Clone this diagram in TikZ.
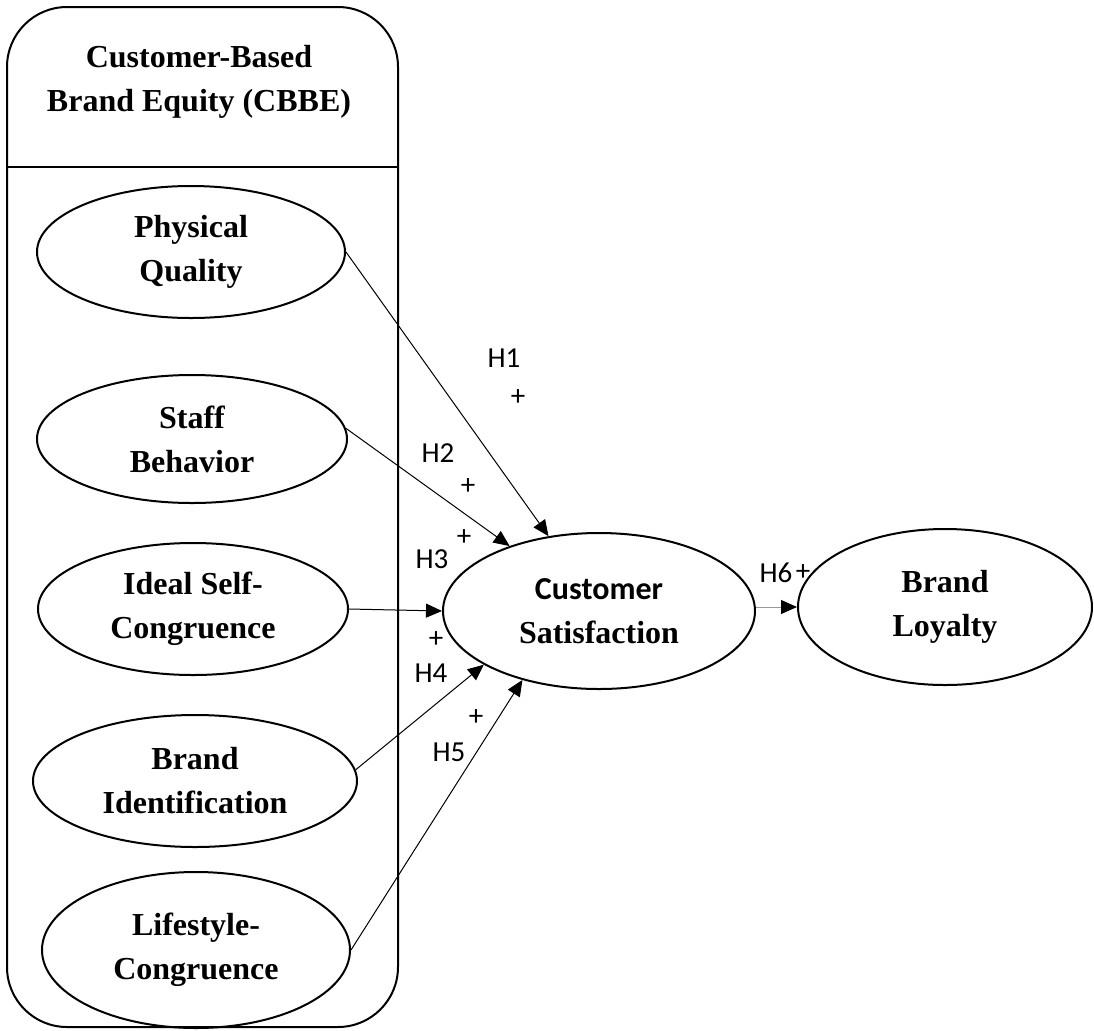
\documentclass[tikz,border=0pt]{standalone}
\usepackage{fontspec}
\setmainfont{Liberation Serif}
\newfontfamily\calibri{Carlito}
\usetikzlibrary{shapes.geometric,arrows.meta}

\begin{document}
\begin{tikzpicture}[x=0.5pt, y=-0.5pt,
  construct/.style = {shape=ellipse, draw, line width=1pt, inner sep=0pt, align=center,
    font=\fontsize{16}{22}\selectfont\bfseries},
  hyp/.style = {font=\calibri\fontsize{14.5}{16}\selectfont, inner sep=0pt},
  path/.style = {line width=0.5pt, -{Triangle[length=8pt,width=7pt,color=black]}}]
  \useasboundingbox (0,0) rectangle (1094,1030);
  % CBBE frame
  \draw[line width=1pt, rounded corners=30pt] (7,7) rectangle (398,1027);
  \draw[line width=1pt] (7,167) -- (398,167);
  \node[align=center, font=\fontsize{16}{22}\selectfont\bfseries] (cbbe) at (199,82)
    {Customer-Based\\Brand Equity (CBBE)};
  % constructs
  \node[construct, minimum width=154pt, minimum height=66pt] (pq) at (191,252) {Physical\\Quality};
  \node[construct, minimum width=155pt, minimum height=64pt] (sb) at (192,439) {Staff\\Behavior};
  \node[construct, minimum width=155pt, minimum height=66pt] (isc) at (193,609) {Ideal Self-\\Congruence};
  \node[construct, minimum width=162pt, minimum height=66pt] (bi) at (195,781) {Brand\\Identification};
  \node[construct, minimum width=154pt, minimum height=78pt] (lc) at (196,950) {Lifestyle-\\Congruence};
  \node[construct, minimum width=156pt, minimum height=78pt] (cs) at (599,611)
    {{\calibri Customer}\\Satisfaction};
  \node[construct, minimum width=147pt, minimum height=78pt] (bl) at (945,607) {Brand\\Loyalty};
  % paths
  \draw[path] (pq.east) -- (cs.124);
  \draw[path] (sb.4) -- (cs.144);
  \draw[path] (isc.east) -- (cs.west);
  \draw[path] (bi.4) -- (cs.205);
  \draw[path] (lc.east) -- (cs.222);
  \draw[path, draw=gray!80] (cs.east |- bl.west) -- (bl.west);
  % hypotheses
  \node[hyp] (h1) at (504,358) {H1};
  \node[hyp] (p1) at (518,398) {+};
  \node[hyp] (h2) at (438,453) {H2};
  \node[hyp] (p2) at (468,487) {+};
  \node[hyp] (p3) at (464,538) {+};
  \node[hyp] (h3) at (432,559) {H3};
  \node[hyp] (p4) at (436,640) {+};
  \node[hyp] (h4) at (431,673) {H4};
  \node[hyp] (p5) at (476,718) {+};
  \node[hyp] (h5) at (449,752) {H5};
  \node[hyp] (h6) at (776,573) {H6};
  \node[hyp] (p6) at (803,573) {+};
\end{tikzpicture}
\end{document}
